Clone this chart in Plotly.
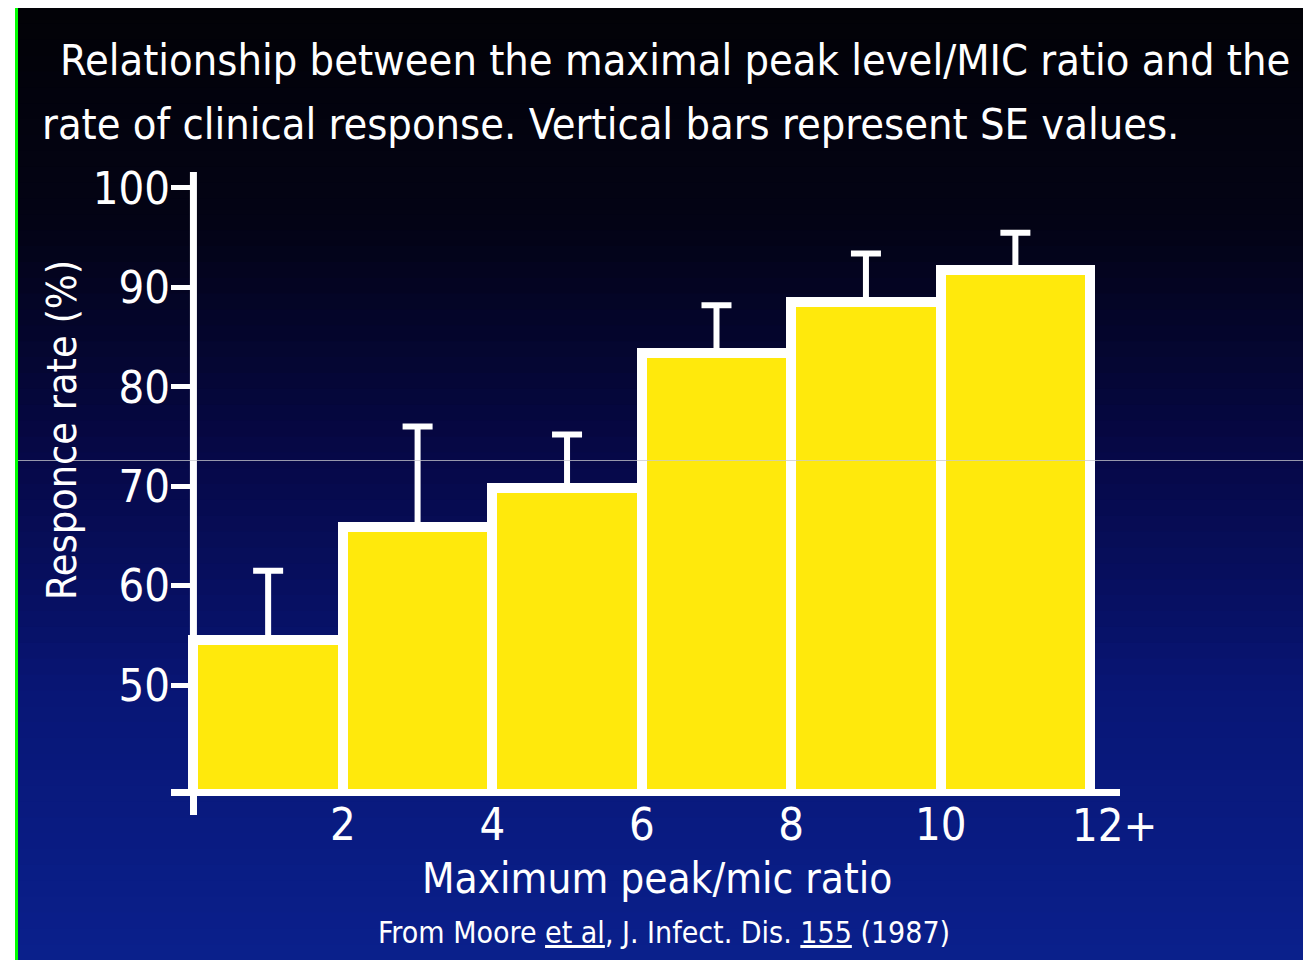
import plotly.graph_objects as go

# Dados
bin_centers = [1, 3, 5, 7, 9, 11]
response_rate = [54.5, 65.9, 69.8, 83.4, 88.5, 91.7]
se_plus = [7.0, 10.1, 5.4, 4.8, 4.9, 3.8]
x_tickvals = [2, 4, 6, 8, 10]
x_ticktext = ["2", "4", "6", "8", "10"]
last_tick = 12
last_label = "12+"
y_tickvals = [50, 60, 70, 80, 90, 100]

# a página tem 8px de margem no body, então a figura fica deslocada
OFF = 8
W, H = 1303, 952
ML, MR, MT, MB = 163, 191, 160, 171
FONT = "DejaVu Sans Condensed, Liberation Sans Narrow, Arial Narrow, sans-serif"
YELLOW = "#ffe90c"


def px_x(p):
    # p em pixels da janela -> coordenada paper
    return (p - OFF - ML) / (W - ML - MR)


def px_y(p):
    return (H - MB - (p - OFF)) / (H - MT - MB)


# degradê do fundo (preto em cima, azul embaixo)
stops = [(0, (2, 2, 6)), (230, (3, 3, 22)), (460, (6, 8, 72)),
         (700, (8, 22, 118)), (960, (10, 32, 140))]


def bg_color(y):
    for (y0, c0), (y1, c1) in zip(stops[:-1], stops[1:]):
        if y0 <= y <= y1:
            t = (y - y0) / (y1 - y0)
            return "rgb(%d,%d,%d)" % tuple(round(a + (b - a) * t) for a, b in zip(c0, c1))
    return "rgb(%d,%d,%d)" % stops[-1][1]


shapes = []
n_bands = 60
band_h = (960 - OFF) / n_bands
for i in range(n_bands):
    y0 = OFF + i * band_h
    shapes.append(dict(
        type="rect", xref="paper", yref="paper", layer="below",
        x0=px_x(18), x1=px_x(1311 + OFF), y0=px_y(y0), y1=px_y(y0 + band_h + 1),
        line_width=0, fillcolor=bg_color(y0 + band_h / 2)
    ))

# eixo y
shapes.append(dict(type="line", xref="x", yref="y", x0=0, x1=0, y0=39.55, y1=101.6,
                   line=dict(color="white", width=7), layer="above"))
# risco horizontal do slide
shapes.append(dict(type="line", xref="paper", yref="paper", x0=px_x(18), x1=px_x(1311 + OFF),
                   y0=px_y(460.5), y1=px_y(460.5),
                   line=dict(color="rgba(200,200,205,0.75)", width=1), layer="above"))
# borda verde
shapes.append(dict(type="line", xref="paper", yref="paper", x0=px_x(16.5), x1=px_x(16.5),
                   y0=px_y(OFF), y1=px_y(960 + OFF), line=dict(color="#00ff00", width=3),
                   layer="above"))

fig = go.Figure()
fig.add_trace(
    go.Bar(
        x=bin_centers,
        y=response_rate,
        width=2,
        marker=dict(color=YELLOW, line=dict(color="white", width=10)),
        error_y=dict(type="data", symmetric=False, array=se_plus,
                     arrayminus=[0] * len(se_plus),
                     color="white", thickness=6, width=15),
        showlegend=False,
        hoverinfo="skip"
    )
)

annotations = [
    dict(text="Relationship between the maximal peak level/MIC ratio and the",
         x=px_x(58), y=px_y(60), xref="paper", yref="paper", xanchor="left", yanchor="middle",
         showarrow=False, font=dict(family=FONT, size=43, color="white")),
    dict(text="rate of clinical response. Vertical bars represent SE values.",
         x=px_x(40), y=px_y(124), xref="paper", yref="paper", xanchor="left", yanchor="middle",
         showarrow=False, font=dict(family=FONT, size=43, color="white")),
    dict(text="Responce rate (%)", textangle=-90,
         x=px_x(62), y=px_y(430), xref="paper", yref="paper", xanchor="center", yanchor="middle",
         showarrow=False, font=dict(family=FONT, size=41, color="white")),
    dict(text="Maximum peak/mic ratio",
         x=px_x(657), y=px_y(878), xref="paper", yref="paper", xanchor="center", yanchor="middle",
         showarrow=False, font=dict(family=FONT, size=42, color="white")),
    dict(text="From Moore <u>et al</u>, J. Infect. Dis. <u>155</u> (1987)",
         x=px_x(664), y=px_y(932), xref="paper", yref="paper", xanchor="center", yanchor="middle",
         showarrow=False, font=dict(family=FONT, size=30, color="white")),
    # rótulo do último intervalo, com o "+" depois do 12
    dict(text=last_label, x=last_tick, xref="x", y=px_y(825), yref="paper",
         xanchor="left", yanchor="middle", xshift=-20,
         showarrow=False, font=dict(family=FONT, size=45, color="white")),
]

fig.update_layout(
    width=W, height=H,
    margin=dict(l=ML, r=MR, t=MT, b=MB),
    paper_bgcolor="white",
    plot_bgcolor="rgba(0,0,0,0)",
    bargap=0,
    shapes=shapes,
    annotations=annotations,
    xaxis=dict(
        range=[-0.3, 12.4],
        tickmode="array", tickvals=x_tickvals, ticktext=x_ticktext,
        ticks="", showgrid=False, zeroline=False,
        showline=True, linecolor="white", linewidth=7,
        ticklabelstandoff=-10,
        tickfont=dict(family=FONT, size=45, color="white"),
        minor=dict(tickmode="array", tickvals=[0], ticks="outside",
                   ticklen=19, tickwidth=7, tickcolor="white", showgrid=False),
    ),
    yaxis=dict(
        range=[39.55, 102],
        tickmode="array", tickvals=y_tickvals,
        ticks="inside", ticklen=22, tickwidth=5, tickcolor="white",
        showgrid=False, zeroline=False, showline=False,
        tickfont=dict(family=FONT, size=45, color="white"),
    ),
)

fig.write_html("out.html")
